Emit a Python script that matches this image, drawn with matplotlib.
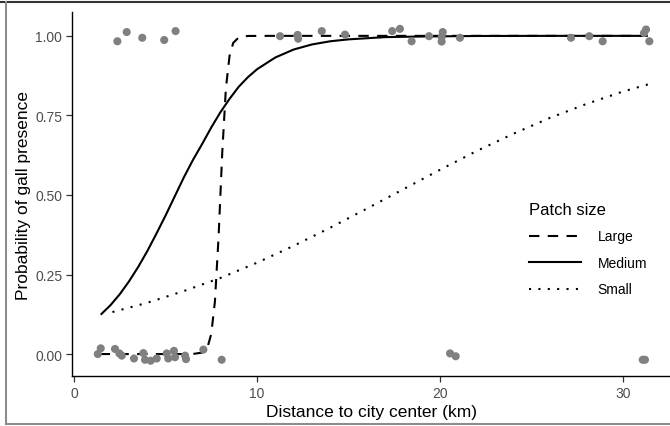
import numpy as np
import matplotlib
matplotlib.use("Agg")
import matplotlib.pyplot as plt
from matplotlib.lines import Line2D

plt.rcParams['font.family'] = ['Liberation Sans', 'DejaVu Sans']

# observed points (jittered), presence = 1
top_x = [2.37, 2.88, 3.73, 4.93, 5.55, 11.26, 12.22, 12.25, 13.54, 14.81,
         17.39, 17.81, 18.45, 19.40, 20.15, 20.09, 20.09, 21.09,
         27.16, 28.16, 28.89, 31.26, 31.15, 31.44]
top_y = [0.983, 1.012, 0.994, 0.987, 1.015, 0.999, 1.003, 0.991, 1.015, 1.004,
         1.015, 1.022, 0.983, 0.999, 1.012, 0.996, 0.982, 0.994,
         0.994, 0.999, 0.983, 1.020, 1.009, 0.983]

# observed points (jittered), presence = 0
bot_x = [1.30, 1.46, 2.24, 2.48, 2.61, 3.28, 3.79, 3.88, 4.19, 4.52, 5.07,
         5.15, 5.46, 5.52, 6.12, 6.07, 7.07, 8.07, 20.55, 20.86, 31.20, 31.08]
bot_y = [0.000, 0.018, 0.016, 0.002, -0.005, -0.014, 0.003, -0.018, -0.021,
         -0.014, 0.002, -0.014, 0.010, -0.010, -0.016, -0.005, 0.014, -0.018,
         0.002, -0.007, -0.018, -0.018]

# fitted curves
large_x = [1.4, 6.0, 6.5, 7.0, 7.3, 7.5, 7.7, 7.9, 8.1, 8.3, 8.5, 8.7, 9.0,
           9.5, 10.5, 31.3]
large_y = [0.0, 0.0, 0.0003, 0.0045, 0.022, 0.063, 0.165, 0.368, 0.632, 0.835,
           0.937, 0.978, 0.995, 0.9997, 1.0, 1.0]

medium_x = [1.5, 2.0, 2.5, 3.0, 3.5, 4.0, 4.5, 5.0, 5.5, 6.0, 6.5, 7.0, 7.5,
            8.0, 8.5, 9.0, 9.5, 10.0, 11.0, 12.0, 13.0, 14.0, 15.0, 17.0,
            19.0, 22.0, 26.0, 31.3]
medium_y = [0.126, 0.154, 0.188, 0.228, 0.273, 0.323, 0.378, 0.435, 0.495,
            0.555, 0.610, 0.660, 0.712, 0.760, 0.802, 0.840, 0.870, 0.895,
            0.932, 0.957, 0.973, 0.983, 0.989, 0.996, 0.998, 0.9996, 1.0, 1.0]

small_x = [2.1, 4.0, 6.0, 8.0, 10.0, 12.0, 14.0, 16.0, 18.0, 20.0, 22.0,
           24.0, 26.0, 28.0, 30.0, 31.4]
small_y = [0.132, 0.161, 0.198, 0.239, 0.287, 0.340, 0.397, 0.457, 0.518,
           0.579, 0.638, 0.692, 0.742, 0.786, 0.825, 0.848]

fig = plt.figure(figsize=(6.7, 4.27), dpi=100)
ax = fig.add_axes([72/670, 50/427, (670-72)/670, (377-13)/427])

pt_col = '#808080'
ax.scatter(top_x, top_y, s=34, color=pt_col, edgecolors='none', zorder=3)
ax.scatter(bot_x, bot_y, s=34, color=pt_col, edgecolors='none', zorder=3)

ax.plot(large_x, large_y, color='black', lw=1.5, dashes=(5, 4), label='Large')
ax.plot(medium_x, medium_y, color='black', lw=1.5, label='Medium')
ax.plot(small_x, small_y, color='black', lw=1.5, dashes=(1, 3.5), label='Small')

ax.set_xlim(-0.11, 32.57)
ax.set_ylim(-0.069, 1.075)
ax.set_xticks([0, 10, 20, 30])
ax.set_yticks([0, 0.25, 0.5, 0.75, 1.0])
ax.set_yticklabels(['0.00', '0.25', '0.50', '0.75', '1.00'])

for s in ['top', 'right']:
    ax.spines[s].set_visible(False)
for s in ['left', 'bottom']:
    ax.spines[s].set_color('black')
    ax.spines[s].set_linewidth(1.0)
ax.tick_params(length=4.5, width=0.9, color='#333333', labelcolor='#4D4D4D',
               labelsize=10, pad=2.5)

ax.set_xlabel('Distance to city center (km)', fontsize=12.5, color='black', labelpad=3)
ax.set_ylabel('Probability of gall presence', fontsize=12.5, color='black', labelpad=3)

leg = ax.legend(loc='upper left', bbox_to_anchor=(515/670, 1 - 189/427),
                bbox_transform=fig.transFigure, frameon=False, fontsize=10,
                title='Patch size', title_fontsize=12, handlelength=3.75,
                handletextpad=1.2, labelspacing=0.9, borderpad=0.5)
leg._legend_box.align = 'left'

# outer screenshot frame
fig.add_artist(Line2D([0, 1], [1 - 3/427, 1 - 3/427], color='#333333', lw=1.5,
                      transform=fig.transFigure))
fig.add_artist(Line2D([5.5/670, 5.5/670], [1 - 3/427, 1 - 425/427], color='#8c8c8c',
                      lw=1.5, transform=fig.transFigure))
fig.add_artist(Line2D([5.5/670, 1], [1 - 425/427, 1 - 425/427], color='#8c8c8c',
                      lw=1.5, transform=fig.transFigure))

fig.savefig('out.png', dpi=100)
